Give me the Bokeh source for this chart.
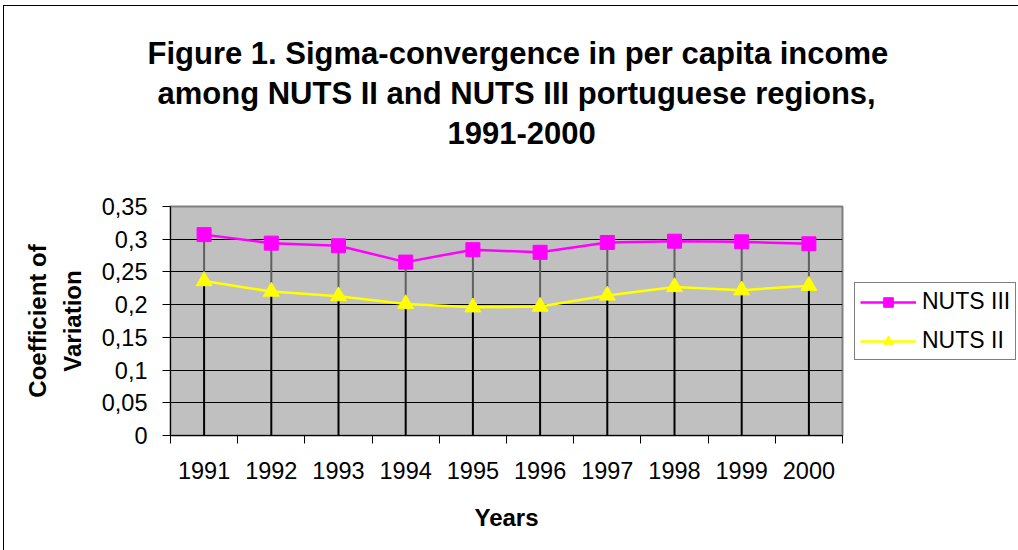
from bokeh.plotting import figure
from bokeh.models import (Range1d, FixedTicker, Legend, LegendItem, Title,
                          ColumnDataSource)
from bokeh.embed import file_html
from bokeh.resources import INLINE

years = ["1991", "1992", "1993", "1994", "1995", "1996", "1997", "1998", "1999", "2000"]
nuts3 = [0.307, 0.294, 0.290, 0.265, 0.284, 0.280, 0.295, 0.297, 0.296, 0.293]
nuts2 = [0.236, 0.220, 0.213, 0.201, 0.196, 0.197, 0.214, 0.227, 0.222, 0.229]
y_ticks = [0, 0.05, 0.1, 0.15, 0.2, 0.25, 0.3, 0.35]
y_tick_labels = ["0", "0,05", "0,1", "0,15", "0,2", "0,25", "0,3", "0,35"]
title_lines = ["Figure 1. Sigma-convergence in per capita income",
               "among NUTS II and NUTS III portuguese regions,",
               "1991-2000"]
x_title = "Years"
y_title_lines = ["Coefficient of", "Variation"]

FONT = "Liberation Sans"

xs = [i + 0.5 for i in range(len(years))]
zeros = [0] * len(years)
src = ColumnDataSource(dict(x=xs, n3=nuts3, n2=nuts2, z=zeros))

p = figure(frame_width=672, frame_height=229,
           min_border_left=166, min_border_right=176,
           min_border_top=200, min_border_bottom=115,
           x_range=Range1d(0, len(years)), y_range=Range1d(0, 0.35),
           output_backend="svg", toolbar_location=None,
           background_fill_color="#C0C0C0", border_fill_color="white")
p.title_location = None
p.styles = {"margin-left": "3px", "margin-top": "5px",
            "border-left": "1px solid black", "border-top": "1px solid black"}

p.outline_line_color = "#808080"
p.outline_line_width = 2

# spacer (white on white) between the frame and the title block
p.add_layout(Title(text="1", text_color="white", text_font=FONT,
                   text_font_style="bold", text_font_size="31px",
                   standoff=30), "above")
# title: one Title per line (added innermost first)
line_offsets = [-23, -13, 277]
line_standoffs = [3, 3, 14]
for txt, off, so in reversed(list(zip(title_lines, line_offsets, line_standoffs))):
    p.add_layout(Title(text=txt, align="left", offset=off, vertical_align="top",
                       text_font=FONT, text_font_style="bold",
                       text_font_size="31px", text_color="black",
                       standoff=so), "above")

# grid
p.xgrid.visible = False
p.ygrid.ticker = FixedTicker(ticks=y_ticks)
p.ygrid.grid_line_color = "black"
p.ygrid.grid_line_width = 1

# y axis
p.yaxis.ticker = FixedTicker(ticks=y_ticks)
p.yaxis.major_label_overrides = {t: l for t, l in zip(y_ticks, y_tick_labels)}
p.yaxis.major_label_text_font = FONT
p.yaxis.major_label_text_font_size = "23.5px"
p.yaxis.major_label_text_color = "black"
p.yaxis.major_tick_out = 8
p.yaxis.major_tick_in = 0
p.yaxis.minor_tick_line_color = None
p.yaxis.axis_line_color = "black"
p.yaxis.major_tick_line_color = "black"
p.yaxis.major_label_standoff = 15
p.yaxis.axis_label = "\n".join(y_title_lines)
p.yaxis.axis_label_text_font = FONT
p.yaxis.axis_label_text_font_style = "bold"
p.yaxis.axis_label_text_font_size = "24px"
p.yaxis.axis_label_text_color = "black"
p.yaxis.axis_label_text_line_height = 1.3
p.yaxis.axis_label_standoff = 13

# x axis: labels at category centres, ticks at boundaries
p.xaxis.ticker = FixedTicker(ticks=xs, minor_ticks=list(range(len(years) + 1)))
p.xaxis.major_label_overrides = {x: y for x, y in zip(xs, years)}
p.xaxis.major_label_text_font = FONT
p.xaxis.major_label_text_font_size = "23.5px"
p.xaxis.major_label_text_color = "black"
p.xaxis.major_tick_out = 0
p.xaxis.major_tick_in = 0
p.xaxis.minor_tick_out = 8
p.xaxis.minor_tick_in = 0
p.xaxis.minor_tick_line_color = "black"
p.xaxis.axis_line_color = "black"
p.xaxis.major_label_standoff = 18
p.xaxis.axis_label = x_title
p.xaxis.axis_label_text_font = FONT
p.xaxis.axis_label_text_font_style = "bold"
p.xaxis.axis_label_text_font_size = "24px"
p.xaxis.axis_label_text_color = "black"
p.xaxis.axis_label_standoff = 22

# drop lines
p.segment(x0="x", y0="n3", x1="x", y1="n2", source=src, line_color="#606060", line_width=2)
p.segment(x0="x", y0="n2", x1="x", y1="z", source=src, line_color="black", line_width=2)

# series
l3 = p.line("x", "n3", source=src, line_color="#FF00FF", line_width=2.5)
m3 = p.scatter("x", "n3", source=src, marker="square", size=14,
               fill_color="#FF00FF", line_color="#FF00FF")
l2 = p.line("x", "n2", source=src, line_color="#FFFF00", line_width=2.5)
m2 = p.scatter("x", "n2", source=src, marker="triangle", size=16,
               fill_color="#FFFF00", line_color="#FFFF00")

legend = Legend(items=[LegendItem(label="NUTS III", renderers=[l3, m3]),
                       LegendItem(label="NUTS II", renderers=[l2, m2])],
                location=(12, 75), orientation="vertical",
                label_text_font=FONT, label_text_font_size="23px",
                label_text_color="black",
                glyph_width=56, glyph_height=24, label_height=24,
                label_standoff=6, spacing=12, padding=5, margin=0,
                border_line_color="black", border_line_width=1,
                background_fill_color="white", background_fill_alpha=1)
p.add_layout(legend, "right")

open("out.html", "w").write(file_html(p, INLINE))
